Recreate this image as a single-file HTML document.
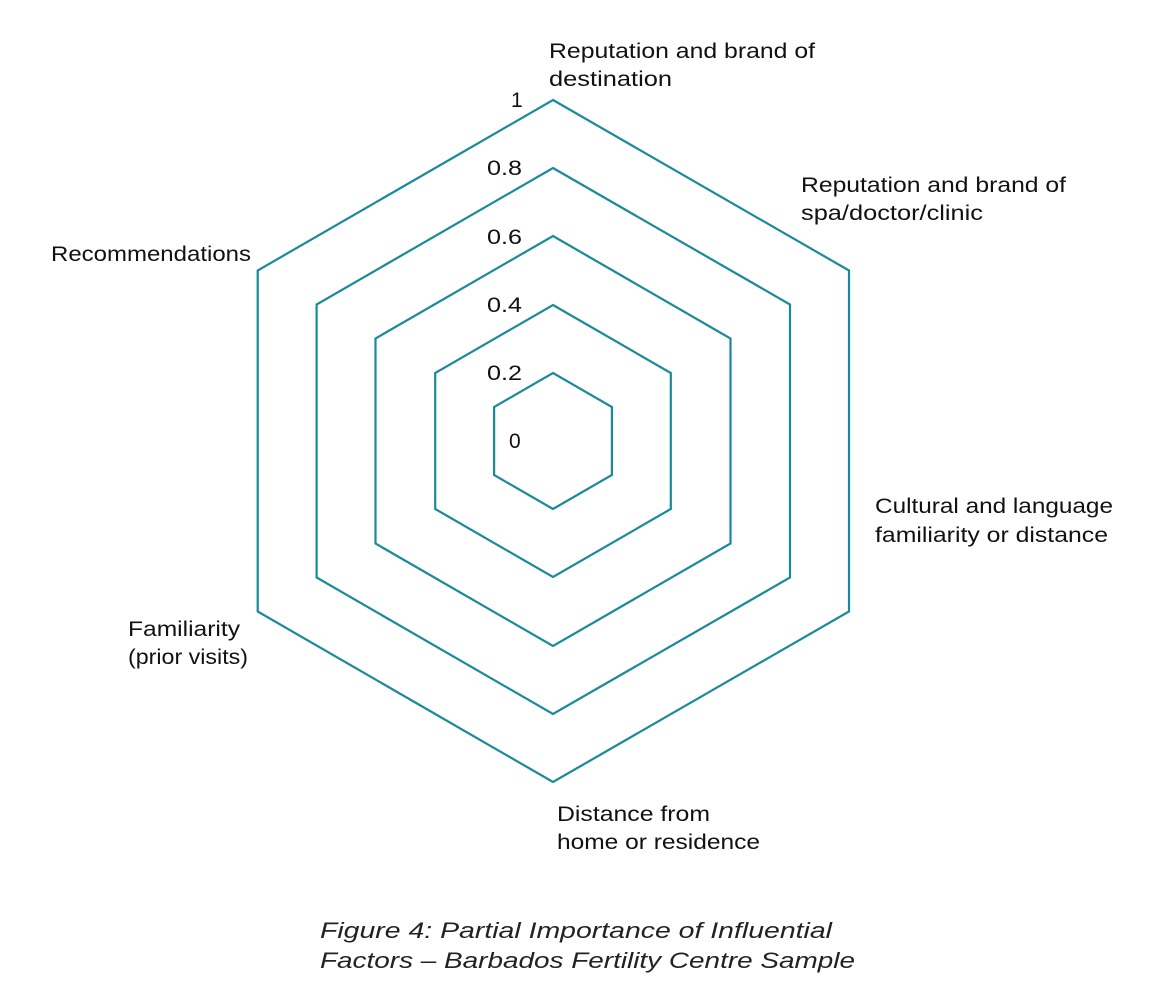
<!DOCTYPE html>
<html><head><meta charset="utf-8"><style>
body{margin:0;background:#fff;}
svg{display:block;font-family:"Liberation Sans",sans-serif;}
</style></head><body>
<svg width="1162" height="982" viewBox="0 0 1162 982">
<g fill="none" stroke="#1a8a9a" stroke-width="2.2" stroke-linejoin="miter">
<polygon points="553,100 849,270.5 849,611.5 553,782 257.7,611.5 257.7,270.5"/>
<polygon points="553,168 790,304.5 790,577.5 553,714 316.6,577.5 316.6,304.5"/>
<polygon points="553,236 730.5,338.5 730.5,543.5 553,646 375.5,543.5 375.5,338.5"/>
<polygon points="553,305 670.8,373 670.8,509 553,577 435.2,509 435.2,373"/>
<polygon points="553,373 611.9,407 611.9,475 553,509 494.1,475 494.1,407"/>
</g>
<g font-size="21" fill="#111" lengthAdjust="spacingAndGlyphs">
<text x="511" y="107">1</text>
<text x="487" y="175" textLength="35" lengthAdjust="spacingAndGlyphs">0.8</text>
<text x="487" y="244" textLength="35" lengthAdjust="spacingAndGlyphs">0.6</text>
<text x="487" y="312" textLength="35" lengthAdjust="spacingAndGlyphs">0.4</text>
<text x="487" y="380" textLength="35" lengthAdjust="spacingAndGlyphs">0.2</text>
<text x="509" y="448">0</text>
<text x="549" y="58" textLength="266" lengthAdjust="spacingAndGlyphs">Reputation and brand of</text>
<text x="549" y="86" textLength="123" lengthAdjust="spacingAndGlyphs">destination</text>
<text x="801" y="192" textLength="265" lengthAdjust="spacingAndGlyphs">Reputation and brand of</text>
<text x="801" y="220" textLength="182" lengthAdjust="spacingAndGlyphs">spa/doctor/clinic</text>
<text x="51" y="261" textLength="200" lengthAdjust="spacingAndGlyphs">Recommendations</text>
<text x="875" y="513" textLength="238" lengthAdjust="spacingAndGlyphs">Cultural and language</text>
<text x="875" y="542" textLength="233" lengthAdjust="spacingAndGlyphs">familiarity or distance</text>
<text x="128" y="636" textLength="112" lengthAdjust="spacingAndGlyphs">Familiarity</text>
<text x="128" y="664" textLength="120" lengthAdjust="spacingAndGlyphs">(prior visits)</text>
<text x="557" y="821" textLength="153" lengthAdjust="spacingAndGlyphs">Distance from</text>
<text x="557" y="849" textLength="203" lengthAdjust="spacingAndGlyphs">home or residence</text>
<text x="320" y="938" font-style="italic" fill="#222" font-size="22" textLength="512" lengthAdjust="spacingAndGlyphs">Figure 4: Partial Importance of Influential</text>
<text x="320" y="968" font-style="italic" fill="#222" font-size="22" textLength="535" lengthAdjust="spacingAndGlyphs">Factors – Barbados Fertility Centre Sample</text>
</g>
</svg>
</body></html>
